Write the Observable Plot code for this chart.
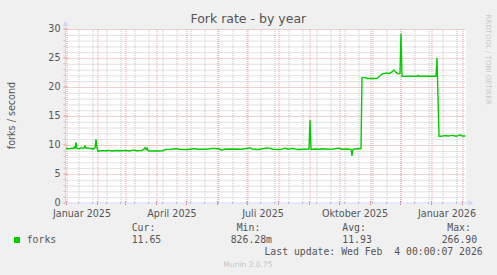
<!DOCTYPE html>
<html><head><meta charset="utf-8">
<script src="https://cdn.jsdelivr.net/npm/d3@7"></script>
<script src="https://cdn.jsdelivr.net/npm/@observablehq/plot@0.6"></script>
<style>
html,body{margin:0;padding:0;background:#f0f0f0;}
svg{display:block}
</style></head><body><div id="chart"></div>
<script>
// ---- data ----
const dates = [
"2024-12-31","2025-01-01","2025-01-03","2025-01-05","2025-01-07","2025-01-08","2025-01-09","2025-01-10","2025-01-11","2025-01-13",
"2025-01-15","2025-01-17","2025-01-18","2025-01-19","2025-01-20","2025-01-22","2025-01-24","2025-01-26","2025-01-27","2025-01-28",
"2025-01-29","2025-01-30","2025-01-31","2025-02-01","2025-02-03","2025-02-10","2025-02-12","2025-02-15","2025-02-20","2025-02-24",
"2025-03-01","2025-03-04","2025-03-08","2025-03-12","2025-03-17","2025-03-19","2025-03-20","2025-03-21","2025-03-22","2025-03-23",
"2025-03-25","2025-04-01","2025-04-07","2025-04-09","2025-04-15","2025-04-21","2025-04-23","2025-05-01","2025-05-09","2025-05-11",
"2025-05-20","2025-05-27","2025-06-02","2025-06-05","2025-06-07","2025-06-15","2025-06-25","2025-07-03","2025-07-05","2025-07-11",
"2025-07-14","2025-07-20","2025-07-23","2025-07-26","2025-08-02","2025-08-07","2025-08-10","2025-08-15","2025-08-20","2025-08-26",
"2025-08-31","2025-09-01","2025-09-02","2025-09-06","2025-09-10","2025-09-14","2025-09-18","2025-09-24","2025-09-30","2025-10-03",
"2025-10-09","2025-10-12","2025-10-13","2025-10-14","2025-10-18","2025-10-22","2025-10-23","2025-10-27","2025-10-28","2025-11-07",
"2025-11-09","2025-11-13","2025-11-17","2025-11-19","2025-11-22","2025-11-24","2025-11-26","2025-11-28","2025-11-30","2025-12-01",
"2025-12-02","2025-12-10","2025-12-17","2025-12-18","2025-12-19","2026-01-05","2026-01-06","2026-01-08","2026-01-10","2026-01-14",
"2026-01-18","2026-01-22","2026-01-25","2026-01-27","2026-01-29","2026-01-31","2026-02-03"
];
const forks = [
9.45,9.5,9.4,9.55,9.45,9.7,9.5,10.5,9.5,9.45,
9.6,9.5,9.6,9.95,9.5,9.6,9.45,9.5,9.35,9.5,
9.6,11.0,9.6,8.95,9.1,9.1,9.15,9.05,9.15,9.1,
9.15,9.05,9.2,9.1,9.15,9.4,9.65,9.3,9.6,9.1,
9.05,9.05,9.1,9.3,9.35,9.45,9.35,9.3,9.45,9.35,
9.35,9.5,9.4,9.2,9.35,9.4,9.35,9.6,9.4,9.3,
9.4,9.6,9.5,9.35,9.3,9.55,9.35,9.5,9.3,9.35,
9.4,14.3,9.3,9.4,9.35,9.45,9.35,9.4,9.55,9.35,
9.4,9.3,8.3,9.35,9.45,9.45,21.7,21.7,21.55,21.55,
21.9,22.4,22.5,22.4,22.7,23.0,22.6,22.35,22.4,29.2,
21.95,21.95,21.95,22.1,21.95,21.95,25.0,11.6,11.6,11.7,
11.65,11.75,11.6,11.7,11.85,11.65,11.65
];
const xStart = "2024-12-31", xEnd = "2026-02-04";
const xLabelDates = ["2025-01-16","2025-04-16","2025-07-16","2025-10-16","2026-01-16"];
const xLabels = ["Januar 2025","April 2025","Juli 2025","Oktober 2025","Januar 2026"];
const yTicks = [0,5,10,15,20,25,30];
const title = "Fork rate - by year";
const yTitle = "forks / second";
const seriesName = "forks";
const statLabels = ["Cur:","Min:","Avg:","Max:"];
const statValues = ["11.65","826.28m","11.93","266.90"];
const lastUpdate = "Last update: Wed Feb  4 00:00:07 2026";
const footer = "Munin 2.0.75";
const watermark = "RRDTOOL / TOBI OETIKER";

// ---- derived ----
const data = dates.map((d,i)=>({date:new Date(d), value:forks[i]}));
const d0 = new Date(xStart), d1 = new Date(xEnd);
const months = d3.utcMonth.range(d0, d1);
const biweekly = d3.utcDay.range(new Date("2025-01-13"), d1, 14);
const minorY = d3.range(1,30).filter(v=>v%5!==0);

const green = "#00cc00";
const gridMinor = "#c4c4c4", gridMajor = "#e2a4a4", axisCol = "#cfd6f8", txt = "#555";
const dash = "1,1";

const chart = Plot.plot({
  width: 497, height: 275,
  marginLeft: 65.5, marginRight: 31.5, marginTop: 29, marginBottom: 72,
  x: {type: "utc", domain: [d0, d1], axis: null},
  y: {domain: [0, 30], axis: null},
  style: {background: "#f0f0f0", fontFamily: "'DejaVu Sans', sans-serif", color: txt, overflow: "visible"},
  marks: [
    Plot.frame({fill: "white", stroke: "none"}),
    Plot.ruleY(minorY, {stroke: gridMinor, strokeDasharray: dash}),
    Plot.ruleX(biweekly, {stroke: gridMinor, strokeDasharray: dash}),
    Plot.ruleY(yTicks.filter(v=>v>0), {stroke: gridMajor, strokeDasharray: dash}),
    Plot.ruleX(months, {stroke: gridMajor, strokeDasharray: dash}),
    Plot.line(data, {x: "date", y: "value", stroke: green, strokeWidth: 1.4}),
    Plot.text(yTicks, {y: d=>d, text: d=>String(d), frameAnchor: "left", textAnchor: "end", dx: -5.5, dy: -0.8, fontSize: 9.6, fill: txt}),
    Plot.text(xLabelDates, {x: d=>new Date(d), text: (d,i)=>xLabels[i], frameAnchor: "bottom", lineAnchor: "bottom", dy: 13.5, fontSize: 9.6, fill: txt})
  ]
});
document.getElementById("chart").appendChild(chart);

// ---- decorations (axes, arrows, titles, legend) ----
const svg = d3.select(chart);
const X = chart.scale("x"), Y = chart.scale("y");
const xl = X.apply(d0), xr = X.apply(d1), yb = Y.apply(0), yt = Y.apply(30);
const g = svg.append("g");
// small ticks on axes
months.forEach(m=>{ const px=X.apply(m); g.append("line").attr("x1",px).attr("x2",px).attr("y1",yb-2).attr("y2",yb+2).attr("stroke","#e08080"); });
biweekly.forEach(m=>{ const px=X.apply(m); g.append("line").attr("x1",px).attr("x2",px).attr("y1",yb-1).attr("y2",yb+1).attr("stroke","#aaa"); });
d3.range(0,31).forEach(v=>{ const py=Y.apply(v); g.append("line").attr("x1",xl-2).attr("x2",xl+(v%5?0:2)).attr("y1",py).attr("y2",py).attr("stroke", v%5? "#bbb":"#e08080"); });
// axis lines
g.append("line").attr("x1",xl).attr("x2",xr+5).attr("y1",yb).attr("y2",yb).attr("stroke",axisCol);
g.append("line").attr("x1",xl).attr("x2",xl).attr("y1",yb+2).attr("y2",yt-5).attr("stroke",axisCol);
g.append("path").attr("d",`M${xr+3},${yb-3}L${xr+8},${yb}L${xr+3},${yb+3}Z`).attr("fill",axisCol);
g.append("path").attr("d",`M${xl-3},${yt-3}L${xl},${yt-8}L${xl+3},${yt-3}Z`).attr("fill",axisCol);

const T = (x,y,s,opts={})=>{
  const t = g.append("text").attr("x",x).attr("y",y).text(s)
    .attr("font-family", opts.font||"'DejaVu Sans', sans-serif")
    .attr("font-size", opts.size||9.6).attr("fill", opts.fill||txt)
    .attr("text-anchor", opts.anchor||"start").style("white-space","pre");
  if (opts.rotate!=null) t.attr("transform",`rotate(${opts.rotate},${x},${y})`);
  return t;
};
const mono = "'DejaVu Sans Mono', monospace";
T(248.3, 23, title, {size: 12.5, anchor: "middle"});
T(15, 115.5, yTitle, {size: 9.6, anchor: "middle", rotate: -90});
T(486, 14.5, watermark, {size: 7, fill: "#c8c8c8", rotate: 90});
// legend
g.append("rect").attr("x",14).attr("y",237).attr("width",6).attr("height",6).attr("fill",green);
T(26.7, 243, seriesName, {font: mono, size: 9.8});
const labX = [131.7, 236.7, 342.3, 447.3];
const valX = [131.7, 230.7, 342.3, 441.7];
statLabels.forEach((s,i)=>T(labX[i], 231, s, {font: mono, size: 9.8}));
statValues.forEach((s,i)=>T(valX[i], 243, s, {font: mono, size: 9.8}));
T(482.7, 255, lastUpdate, {font: mono, size: 9.8, anchor: "end"});
T(248, 267, footer, {size: 7.5, fill: "#c4c4c4", anchor: "middle"});
</script>
</body></html>
